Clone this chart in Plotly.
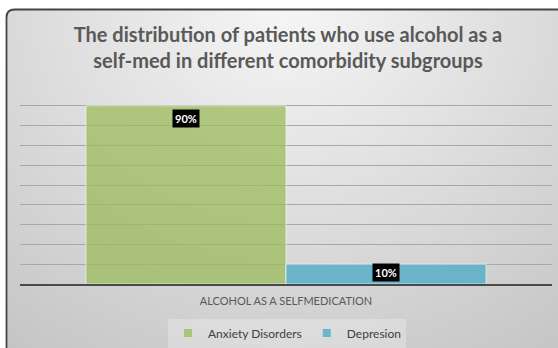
import base64
import struct
import zlib

import numpy as np
import plotly.graph_objects as go

# ---- data -------------------------------------------------------------
categories = ["ALCOHOL AS A SELFMEDICATION"]
series_names = ["Anxiety Disorders", "Depresion"]
anxiety_pct = [90]
depression_pct = [10]
grid_ticks = [10, 20, 30, 40, 50, 60, 70, 80, 90]

W, H = 558, 348
FONT = "Lato"
BAR_GAP = 0.248
GREEN = "rgba(155,187,89,0.75)"
BLUE = "rgba(75,172,198,0.78)"


def png_data_uri(gray):
    """Encode a 2-D uint8 array as a grayscale PNG data URI."""
    h, w = gray.shape
    raw = b"".join(b"\x00" + gray[r].tobytes() for r in range(h))

    def chunk(tag, data):
        c = struct.pack(">I", len(data)) + tag + data
        return c + struct.pack(">I", zlib.crc32(tag + data) & 0xFFFFFFFF)

    png = b"\x89PNG\r\n\x1a\n"
    png += chunk(b"IHDR", struct.pack(">IIBBBBB", w, h, 8, 0, 0, 0, 0))
    png += chunk(b"IDAT", zlib.compress(raw, 9))
    png += chunk(b"IEND", b"")
    return "data:image/png;base64," + base64.b64encode(png).decode()


# soft radial grey backdrop, brightest at the top centre
yy, xx = np.mgrid[0:H, 0:W].astype(float)
t = np.sqrt(((xx - 285) / 420.0) ** 2 + ((yy - 0) / 380.0) ** 2)
bg = 247 - 44 * np.clip(t, 0, 1.15)
# white outside the rounded frame
frame_l, frame_t, rad = 6.5, 9.5, 8.0
outside = (xx < frame_l) | (yy < frame_t)
corner = (xx < frame_l + rad) & (yy < frame_t + rad)
dist = np.sqrt((xx - (frame_l + rad)) ** 2 + (yy - (frame_t + rad)) ** 2)
outside |= corner & (dist > rad)
bg[outside] = 255
bg_img = png_data_uri(bg.astype(np.uint8))


def px(x):
    return x / W


def py(y):
    return 1 - y / H


fig = go.Figure()
for name, vals, color in [(series_names[0], anxiety_pct, GREEN),
                          (series_names[1], depression_pct, BLUE)]:
    fig.add_trace(go.Bar(
        x=categories, y=vals, name=name, showlegend=False,
        marker=dict(color=color,
                    line=dict(color="rgba(255,255,255,0.6)", width=1)),
    ))
    # small square swatch for the legend entry
    fig.add_trace(go.Scatter(
        x=[None], y=[None], mode="markers", name=name,
        marker=dict(symbol="square", size=8, color=color),
    ))

# value labels: white bold text on black boxes near the top of each bar
bar_w = (1 - BAR_GAP) / 2
for i, (vals, yshift) in enumerate([(anxiety_pct, -3), (depression_pct, 1)]):
    for ci, v in enumerate(vals):
        fig.add_annotation(
            x=ci - (1 - BAR_GAP) / 2 + bar_w * (i + 0.5), y=v,
            xref="x", yref="y", yanchor="top", yshift=yshift,
            text=f"<b>{v}%</b>", showarrow=False,
            font=dict(family=FONT, size=11, color="white"),
            bgcolor="black", borderpad=2,
        )

# frame border with rounded top-left corner
path = (f"M {px(frame_l)},{py(H)} L {px(frame_l)},{py(frame_t + rad)} "
        f"Q {px(frame_l)},{py(frame_t)} {px(frame_l + rad)},{py(frame_t)} "
        f"L {px(W)},{py(frame_t)}")
fig.add_shape(type="path", path=path, xref="paper", yref="paper",
              line=dict(color="#454545", width=1.8))

plot_x0, plot_x1 = px(20), px(552)
plot_y0, plot_y1 = py(284), py(86)

fig.update_layout(
    width=W, height=H,
    margin=dict(l=0, r=0, t=0, b=0),
    paper_bgcolor="white",
    plot_bgcolor="rgba(0,0,0,0)",
    images=[dict(source=bg_img, xref="paper", yref="paper", x=0, y=1,
                 sizex=1, sizey=1, sizing="stretch", layer="below")],
    barmode="group", bargap=BAR_GAP, bargroupgap=0,
    title=dict(
        text="The distribution of patients who use alcohol as a<br>"
             "self-med in different comorbidity subgroups",
        x=px(288), xanchor="center", y=py(41.5), yanchor="middle",
        font=dict(family=FONT, size=20, color="#595959", weight="bold"),
    ),
    xaxis=dict(
        domain=[plot_x0, plot_x1],
        showgrid=False, showline=True, linecolor="#4a4a4a", linewidth=2,
        ticks="", ticklabelstandoff=6,
        tickfont=dict(family=FONT, size=11, color="#595959"),
    ),
    yaxis=dict(
        domain=[plot_y0, plot_y1], range=[0, 100],
        tickvals=grid_ticks, showticklabels=False,
        showgrid=True, gridcolor="#a8a8a8", gridwidth=1.4,
        zeroline=False, showline=False,
    ),
    yaxis2=dict(
        overlaying="y", range=[0, 100], tickvals=[100],
        showticklabels=False, showgrid=True, gridcolor="#e6e6e6",
        gridwidth=1.2, zeroline=False, showline=False,
    ),
    legend=dict(
        orientation="h", x=px(287), xanchor="center", y=py(333), yanchor="middle",
        bgcolor="rgba(255,255,255,0.25)", itemwidth=30,
        font=dict(family=FONT, size=12, color="#404040"),
    ),
)

fig.write_html("out.html")
